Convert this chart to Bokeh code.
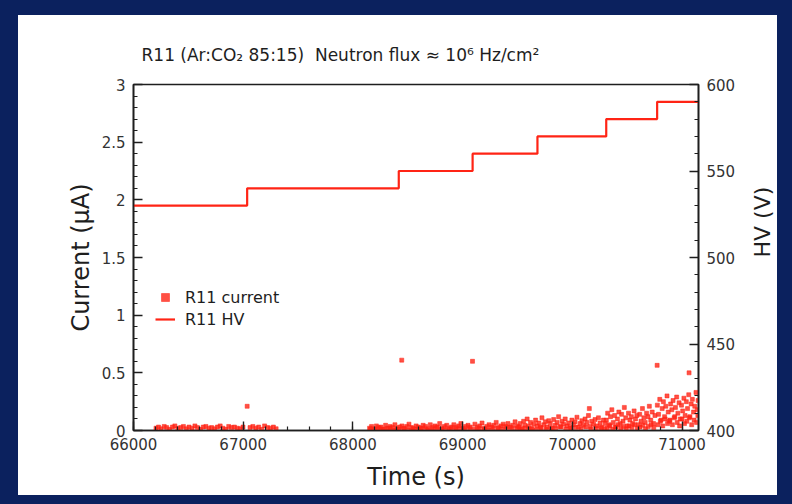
import math
from bokeh.plotting import figure
from bokeh.models import (Range1d, LinearAxis, SingleIntervalTicker, NumeralTickFormatter,
                          ColumnDataSource, Legend, LegendItem, Spacer)
from bokeh.layouts import column, row
from bokeh.embed import file_html
from bokeh.resources import INLINE

# ---------------- data ----------------
title_text = "R11 (Ar:CO\u2082 85:15)\u00a0 Neutron flux \u2248 10\u2076 Hz/cm\u00b2"
hv_label = "HV (V)"

hv_time = [66000, 67036, 68418, 69091, 69682, 70309, 70773, 71150]
hv_volt = [530, 540, 550, 560, 570, 580, 590, 590]

t1 = [66205, 66228, 66251, 66280, 66302, 66329, 66355, 66377, 66404, 66431, 66455, 66482, 66506, 66533,
      66560, 66583, 66611, 66636, 66660, 66688, 66712, 66739, 66765, 66790, 66815, 66842, 66868, 66893,
      66920, 66946, 66973, 66998, 67062, 67088, 67115, 67141, 67168, 67195, 67222, 67248, 67275, 67300]
c1 = [0.02, 0.03, 0.015, 0.035, 0.025, 0.01, 0.03, 0.04, 0.02, 0.025, 0.035, 0.015, 0.03, 0.02,
      0.04, 0.025, 0.01, 0.03, 0.035, 0.02, 0.025, 0.015, 0.03, 0.04, 0.02, 0.01, 0.035, 0.025,
      0.03, 0.02, 0.015, 0.03, 0.025, 0.035, 0.02, 0.03, 0.01, 0.04, 0.025, 0.02, 0.03, 0.015]

t2 = [68152, 68170, 68191, 68214, 68233, 68255, 68276, 68298, 68317, 68340, 68361, 68383, 68402, 68425,
      68447, 68468, 68490, 68511, 68533, 68554, 68576, 68597, 68619, 68640, 68662, 68683, 68705, 68726,
      68748, 68769, 68791, 68812, 68834, 68855, 68877, 68898, 68920, 68941, 68963, 68984, 69006, 69027,
      69049, 69070, 69112, 69134, 69155, 69177, 69198, 69220, 69241, 69263, 69284, 69306, 69327, 69349,
      69370, 69392, 69413, 69435, 69456, 69478, 69499]
c2 = [0.02, 0.035, 0.015, 0.04, 0.025, 0.03, 0.01, 0.045, 0.02, 0.035, 0.025, 0.05, 0.015, 0.03,
      0.04, 0.02, 0.035, 0.055, 0.025, 0.01, 0.04, 0.03, 0.02, 0.045, 0.035, 0.015, 0.05, 0.025,
      0.04, 0.03, 0.06, 0.02, 0.035, 0.045, 0.015, 0.03, 0.05, 0.025, 0.04, 0.06, 0.02, 0.035,
      0.045, 0.03, 0.055, 0.025, 0.04, 0.065, 0.02, 0.035, 0.05, 0.03, 0.045, 0.07, 0.025, 0.04,
      0.055, 0.035, 0.06, 0.03, 0.045, 0.075, 0.04]
t2b = [68160, 68205, 68248, 68290, 68335, 68378, 68420, 68463, 68506, 68549, 68592, 68635, 68678, 68721,
       68764, 68807, 68850, 68893, 68936, 68979, 69022, 69065, 69108, 69151, 69194, 69237, 69280, 69323,
       69366, 69409, 69452, 69495]
c2b = [0.01, 0.005, 0.015, 0.01, 0.02, 0.005, 0.01, 0.015, 0.005, 0.02, 0.01, 0.015, 0.005, 0.01,
       0.02, 0.01, 0.005, 0.015, 0.01, 0.02, 0.005, 0.015, 0.01, 0.02, 0.01, 0.005, 0.015, 0.02,
       0.01, 0.025, 0.015, 0.02]

t3 = [69512, 69525, 69541, 69556, 69570, 69588, 69601, 69619, 69633, 69648, 69665, 69679, 69694, 69710,
      69723, 69740, 69754, 69769, 69785, 69799, 69815, 69830, 69844, 69861, 69875, 69890, 69906, 69920,
      69935, 69951, 69966, 69980, 69996, 70011, 70025, 70042, 70056, 70071, 70087, 70101, 70116, 70132,
      70147, 70162, 70177, 70193, 70207, 70222, 70238, 70253, 70268, 70284, 70299]
c3 = [0.03, 0.06, 0.02, 0.08, 0.045, 0.1, 0.035, 0.07, 0.015, 0.055, 0.09, 0.04, 0.065, 0.025,
      0.11, 0.05, 0.075, 0.03, 0.085, 0.06, 0.02, 0.095, 0.045, 0.07, 0.12, 0.035, 0.08, 0.055,
      0.1, 0.04, 0.065, 0.025, 0.09, 0.05, 0.075, 0.115, 0.03, 0.06, 0.085, 0.045, 0.1, 0.07,
      0.13, 0.035, 0.08, 0.055, 0.095, 0.04, 0.11, 0.065, 0.025, 0.09, 0.06]
t3b = [69530, 69575, 69620, 69668, 69712, 69758, 69803, 69850, 69895, 69940, 69986, 70030, 70077, 70122,
       70168, 70213, 70258, 70295]
c3b = [0.01, 0.02, 0.015, 0.005, 0.025, 0.01, 0.02, 0.015, 0.03, 0.01, 0.02, 0.025, 0.015, 0.03,
       0.01, 0.02, 0.025, 0.015]

t4 = [70310, 70322, 70335, 70348, 70360, 70373, 70386, 70398, 70411, 70424, 70436, 70449, 70462, 70474,
      70487, 70500, 70512, 70525, 70538, 70550, 70563, 70576, 70588, 70601, 70614, 70626, 70639, 70652,
      70664, 70677, 70690, 70702, 70715, 70728, 70740, 70753]
c4 = [0.09, 0.15, 0.05, 0.12, 0.18, 0.07, 0.13, 0.03, 0.1, 0.16, 0.06, 0.14, 0.08, 0.2,
      0.11, 0.04, 0.15, 0.09, 0.12, 0.06, 0.17, 0.1, 0.13, 0.05, 0.14, 0.08, 0.19, 0.11,
      0.07, 0.15, 0.12, 0.21, 0.09, 0.16, 0.06, 0.13]
t4b = [70318, 70343, 70367, 70392, 70417, 70442, 70467, 70492, 70517, 70542, 70567, 70592, 70617, 70642,
       70667, 70692, 70717, 70742]
c4b = [0.02, 0.04, 0.01, 0.03, 0.05, 0.02, 0.035, 0.015, 0.04, 0.025, 0.05, 0.02, 0.03, 0.045,
       0.015, 0.035, 0.05, 0.025]

t5 = [70775, 70786, 70797, 70808, 70819, 70830, 70841, 70852, 70863, 70874, 70885, 70896, 70907, 70918,
      70929, 70940, 70951, 70962, 70973, 70984, 70995, 71006, 71017, 71028, 71039, 71050, 71061, 71072,
      71083, 71094, 71105, 71116, 71127, 71138, 71146]
c5 = [0.22, 0.14, 0.27, 0.09, 0.19, 0.25, 0.12, 0.21, 0.3, 0.16, 0.08, 0.23, 0.18, 0.26,
      0.11, 0.2, 0.29, 0.15, 0.24, 0.1, 0.22, 0.17, 0.28, 0.13, 0.25, 0.19, 0.31, 0.12,
      0.23, 0.27, 0.16, 0.21, 0.33, 0.18, 0.26]
t5b = [70780, 70802, 70824, 70846, 70868, 70890, 70912, 70934, 70956, 70978, 71000, 71022, 71044, 71066,
       71088, 71110, 71132, 71144]
c5b = [0.05, 0.08, 0.04, 0.1, 0.06, 0.09, 0.05, 0.12, 0.07, 0.04, 0.1, 0.06, 0.08, 0.11,
       0.05, 0.09, 0.07, 0.13]

t_out = [67036, 68445, 69090, 70155, 70773, 71064]
c_out = [0.21, 0.61, 0.6, 0.19, 0.565, 0.5]

# ---------------- styling ----------------
NAVY = "#0b215e"
RED = "#ff2415"
INK = "#1e1e1e"
FONT = "DejaVu Sans"

cur_t = t1 + t2 + t2b + t3 + t3b + t4 + t4b + t5 + t5b + t_out
cur_c = c1 + c2 + c2b + c3 + c3b + c4 + c4b + c5 + c5b + c_out
cur_src = ColumnDataSource(dict(t=cur_t, c=cur_c))
hv_src = ColumnDataSource(dict(t=hv_time, v=hv_volt))

p = figure(width=772, height=480, output_backend="svg", toolbar_location=None,
           x_range=Range1d(66000, 71150), y_range=Range1d(0, 3),
           min_border_left=115, min_border_right=91, min_border_top=69, min_border_bottom=65,
           x_axis_label="Time (s)", y_axis_label="Current (\u03bcA)")
p.extra_y_ranges = {"hv": Range1d(400, 600)}
p.background_fill_color = "white"
p.border_fill_color = "white"
p.outline_line_color = INK
p.outline_line_width = 1.6
p.grid.visible = False

p.title.text = title_text
p.title.align = "left"
p.title.offset = 8
p.title.text_font = FONT
p.title.text_font_size = "17px"
p.title.text_font_style = "normal"
p.title.text_color = INK
p.title.standoff = 39

rax = LinearAxis(y_range_name="hv", axis_label=hv_label)
p.add_layout(rax, "right")

p.xaxis.ticker = SingleIntervalTicker(interval=1000, num_minor_ticks=5)
p.yaxis[0].ticker = SingleIntervalTicker(interval=0.5, num_minor_ticks=5)
rax.ticker = SingleIntervalTicker(interval=50, num_minor_ticks=5)
p.xaxis.formatter = NumeralTickFormatter(format="0")
p.yaxis[0].formatter = NumeralTickFormatter(format="0.[0]")
rax.formatter = NumeralTickFormatter(format="0")

for ax in [p.xaxis[0], p.yaxis[0], rax]:
    ax.axis_line_color = INK
    ax.axis_line_width = 1.6
    ax.major_tick_line_color = INK
    ax.minor_tick_line_color = INK
    ax.major_tick_line_width = 1.4
    ax.minor_tick_line_width = 1.2
    ax.major_tick_in = 9
    ax.major_tick_out = 0
    ax.minor_tick_in = 4
    ax.minor_tick_out = 0
    ax.major_label_text_font = FONT
    ax.major_label_text_font_size = "15px"
    ax.major_label_text_color = "#333333"
    ax.axis_label_text_font = FONT
    ax.axis_label_text_font_style = "normal"
    ax.axis_label_text_color = INK
    ax.axis_label_text_font_size = "24px"

p.xaxis.major_label_standoff = 7
p.xaxis.axis_label_standoff = 10
p.yaxis[0].major_label_standoff = 8
p.yaxis[0].axis_label_standoff = 4
rax.major_label_standoff = 8
rax.axis_label_standoff = 24
rax.axis_label_orientation = math.pi / 2
rax.axis_label_text_font_size = "22px"

sc = p.scatter("t", "c", source=cur_src, marker="square", size=4,
               fill_color=RED, line_color=RED, fill_alpha=0.8, line_alpha=0.5)
hv = p.step("t", "v", source=hv_src, mode="after", y_range_name="hv",
            line_color=RED, line_width=2.2)

legend = Legend(items=[LegendItem(label="R11 current", renderers=[sc]),
                       LegendItem(label="R11 HV", renderers=[hv])],
                location=(22, 101), padding=0, margin=0, spacing=2,
                background_fill_alpha=0, border_line_color=None,
                label_text_font=FONT, label_text_font_size="16px", label_text_color=INK,
                glyph_width=20, glyph_height=20, label_standoff=10)
p.add_layout(legend, "center")


def navy(w, h, **kw):
    return Spacer(width=w, height=h, styles={"background-color": NAVY}, **kw)


right_strip = Spacer(width=15, height=480, margin=(0, 0, 0, -13),
                     styles={"background-color": NAVY, "position": "relative", "z-index": "10"})
page = column(navy(792, 15), row(navy(18, 480), p, right_strip), navy(792, 9))

open("out.html", "w").write(file_html(page, INLINE))
